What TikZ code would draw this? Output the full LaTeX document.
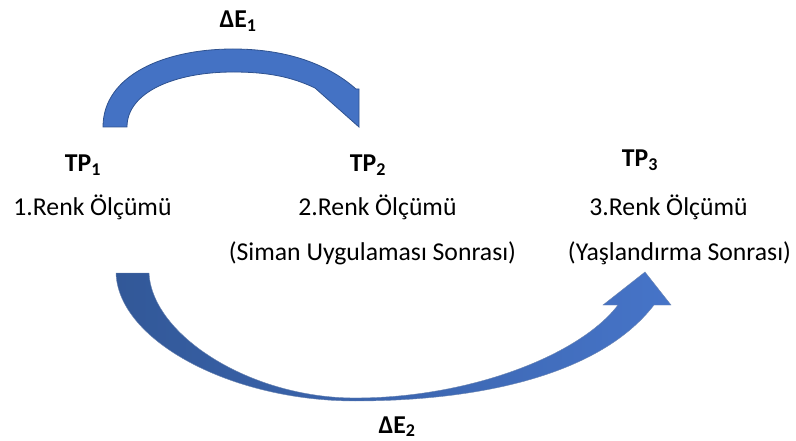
\documentclass[tikz,border=0pt]{standalone}
\usepackage{fontspec}
\setmainfont{Carlito}
\usetikzlibrary{shadings}
\definecolor{offblue}{RGB}{68,114,196}
\definecolor{offdark}{RGB}{47,82,143}
\definecolor{shleft}{RGB}{50,88,152}
\definecolor{shright}{RGB}{70,116,200}
\tikzset{
  lbl/.style={anchor=base, inner sep=0pt, font=\fontsize{25.7}{30}\selectfont},
  blbl/.style={lbl, font=\fontsize{25.7}{30}\selectfont\bfseries},
  toparrow/.style={fill=offblue, draw=offdark, line width=0.8pt, line join=miter},
  botarrow/.style={left color=shleft, right color=shright, draw=offdark!70, line width=0.4pt}
}
\begin{document}
\begin{tikzpicture}[x=1pt,y=-1pt]
\useasboundingbox (0,0) rectangle (796,441);
% top curved arrow
\path[toparrow] (103,127) .. controls (103,75) and (165,49) .. (233,49)
  .. controls (290,49) and (330,66) .. (356,89) -- (359,89) -- (359,127) -- (315,88)
  .. controls (290,76) and (265,72) .. (233,72)
  .. controls (175,72) and (127,92) .. (127,127) -- cycle;
% bottom curved arrow
\path[botarrow] (116,273) .. controls (118,340) and (230,401) .. (355,401)
  .. controls (480,401) and (600,375) .. (654,305) -- (671,305) -- (645,272) -- (603,305) -- (618,305)
  .. controls (580,355) and (470,398) .. (355,398)
  .. controls (250,398) and (152,335) .. (149,273) -- cycle;
% labels
\node[blbl] (de1) at (238,28) {ΔE\textsubscript{1}};
\node[blbl] (de2) at (397,433) {ΔE\textsubscript{2}};
\node[blbl] (tp1) at (83,172) {TP\textsubscript{1}};
\node[blbl] (tp2) at (368,172) {TP\textsubscript{2}};
\node[blbl] (tp3) at (640,167) {TP\textsubscript{3}};
\node[lbl] (r1) at (92.5,215) {1.Renk Ölçümü};
\node[lbl] (r2) at (377.5,215) {2.Renk Ölçümü};
\node[lbl] (r3) at (668.5,215) {3.Renk Ölçümü};
\node[lbl] (s2) at (372.5,260) {(Siman Uygulaması Sonrası)};
\node[lbl] (s3) at (679.5,260) {(Yaşlandırma Sonrası)};
\end{tikzpicture}
\end{document}
